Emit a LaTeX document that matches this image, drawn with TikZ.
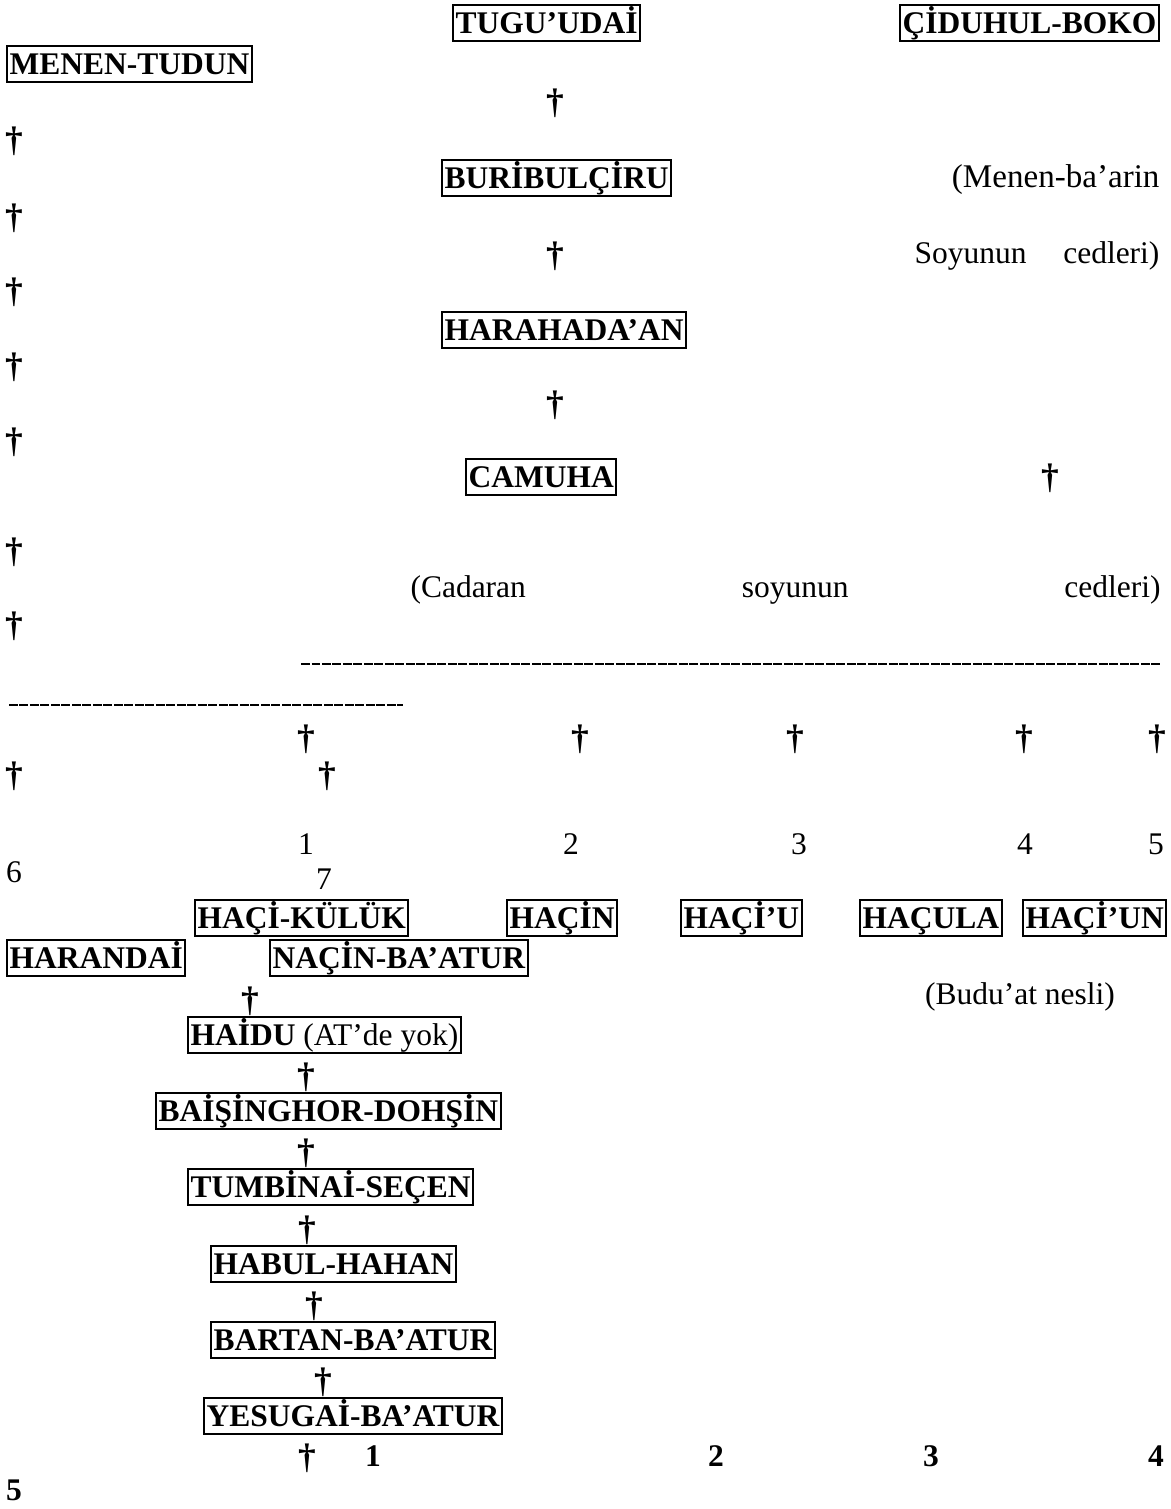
\documentclass[tikz,border=0pt]{standalone}
\usepackage{fontspec}
\setmainfont{Liberation Serif}
\usetikzlibrary{positioning}

\begin{document}
\fontsize{12pt}{14pt}\selectfont
\begin{tikzpicture}[x=0.381pt,y=-0.381pt,
	name box/.style = {draw, line width=0.75pt, inner xsep=1pt, inner ysep=0.5pt,
		text height=10.5pt, text depth=2.4pt, font=\bfseries, anchor=west},
	dag/.style = {inner sep=0pt, font=\fontsize{13.5pt}{14pt}\selectfont\bfseries},
	note/.style = {inner sep=0pt},
	dash row/.style = {line width=0.9pt, dash pattern=on 3.3pt off 0.7pt}
]
\useasboundingbox (0,0) rectangle (1171,1509);

% upper part
\node[name box](tugudai) at (452,23) {TUGU’UDAİ};
\node[name box](ciduhul) at (899,23) {ÇİDUHUL-BOKO};
\node[name box](menen) at (6,64) {MENEN-TUDUN};
\node[dag](d1) at (555,103) {†};
\node[name box](buribul) at (441,178) {BURİBULÇİRU};
\node[note, anchor=east, font=\fontsize{12.6pt}{14pt}\selectfont](menenba) at (1160,180) {(Menen-ba’arin};
\node[dag](d2) at (555,256) {†};
\node[note, anchor=east](soyunun) at (1160,256) {\makebox[93.3pt][s]{Soyunun cedleri)}};
\node[name box](harahada) at (441,330) {HARAHADA’AN};
\node[dag](d3) at (555,405) {†};
\node[name box](camuha) at (465,477) {CAMUHA};
\node[dag](d4) at (1050,478) {†};
\node[note, anchor=west](cadaran) at (410,590) {\makebox[285.8pt][s]{(Cadaran soyunun cedleri)}};

% left column
\foreach \y [count=\i] in {141,218,292,367,442,552,626}
	\node[dag](ld\i) at (14,\y) {†};

% dashes
\coordinate (da1) at (301,664);
\coordinate (da2) at (1160,664);
\coordinate (db1) at (9,705);
\coordinate (db2) at (403,705);
\draw[dash row] (da1) -- (da2);
\draw[dash row] (db1) -- (db2);

% sons of Camuha
\foreach \x [count=\i] in {306,580,795,1024,1157}
	\node[dag](sd\i) at (\x,739) {†};
\node[dag](sd6) at (14,776) {†};
\node[dag](sd7) at (327,776) {†};
\foreach \x [count=\i] in {306,571,799,1025,1156}
	\node[note](n\i) at (\x,844) {\i};
\node[note](n6) at (14,872) {6};
\node[note](n7) at (324,879) {7};

\node[name box](hacikuluk) at (194,918) {HAÇİ-KÜLÜK};
\node[name box](hacin) at (506,918) {HAÇİN};
\node[name box](haciu) at (680,918) {HAÇİ’U};
\node[name box](hacula) at (859,918) {HAÇULA};
\node[name box](haciun) at (1022,918) {HAÇİ’UN};
\node[name box](harandai) at (6,958) {HARANDAİ};
\node[name box](nacin) at (269,958) {NAÇİN-BA’ATUR};

% line of Haidu
\node[dag](h0) at (250,1001) {†};
\node[note](budu) at (1020,997) {(Budu’at nesli)};
\node[name box](haidu) at (187,1035) {HAİDU {\mdseries (AT’de yok)}};
\node[dag](h1) at (306,1077) {†};
\node[name box](baisinghor) at (155,1111) {BAİŞİNGHOR-DOHŞİN};
\node[dag](h2) at (306,1153) {†};
\node[name box](tumbinai) at (187,1187) {TUMBİNAİ-SEÇEN};
\node[dag](h3) at (307,1230) {†};
\node[name box](habul) at (210,1264) {HABUL-HAHAN};
\node[dag](h4) at (314,1306) {†};
\node[name box](bartan) at (210,1340) {BARTAN-BA’ATUR};
\node[dag](h5) at (323,1382) {†};
\node[name box](yesugai) at (203,1416) {YESUGAİ-BA’ATUR};
\node[dag](h6) at (307,1458) {†};
\foreach \x [count=\i] in {373,716,931,1156}
	\node[note, font=\bfseries](b\i) at (\x,1456) {\i};
\node[note, font=\bfseries](b5) at (14,1490) {5};
\end{tikzpicture}
\end{document}
